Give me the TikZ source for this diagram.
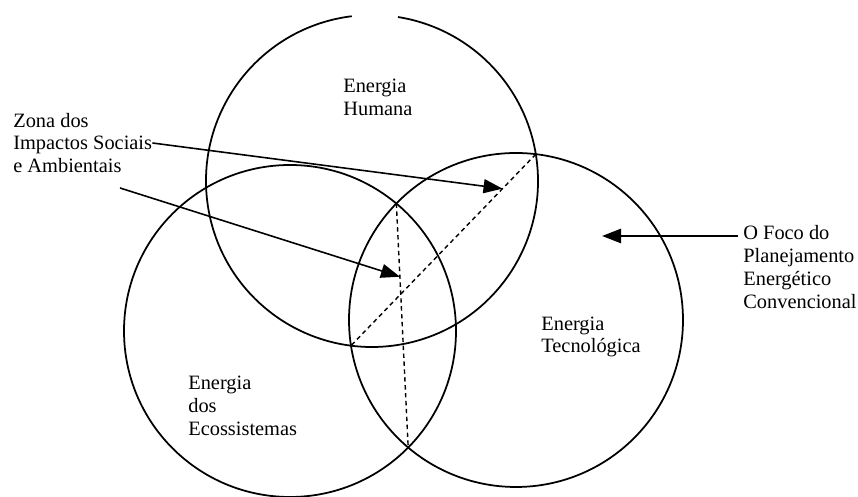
\documentclass[tikz,border=0pt]{standalone}
\usepackage{fontspec}
\setmainfont{Liberation Serif}
\usetikzlibrary{arrows.meta, calc}

\begin{document}
\begin{tikzpicture}[font=\fontsize{11.6}{13}\selectfont,
            ring/.style={line width=1pt},
            chord/.style={line width=0.8pt,dash pattern=on 2.5pt off 2pt},
            pointer/.style={line width=0.9pt,-{Triangle[length=3.8mm,width=2.8mm]}},
            txt/.style={align=left,anchor=west,inner sep=0pt}]
            \useasboundingbox (0,0) rectangle (17.16,9.94);
            \draw[ring] (7.44,6.32) ++(97:3.32) arc[start angle=97,end angle=441,radius=3.32];
            \draw[ring] (5.80,3.32) circle (3.32);
            \draw[ring] (10.32,3.54) circle (3.34);
            \coordinate (lr-1) at (7.927,5.870);
            \coordinate (lr-2) at (8.164,0.989);
            \coordinate (ht-1) at (10.716,6.856);
            \coordinate (ht-2) at (7.020,3.027);
            \draw[chord] (lr-1) -- (lr-2);
            \draw[chord] (ht-1) -- (ht-2);
            \node[txt] (humana) at (6.86,8.00) {Energia\\Humana};
            \node[txt] (tecno) at (10.82,3.20) {Energia\\Tecnológica};
            \node[txt] (eco) at (3.76,1.82) {Energia\\dos\\Ecossistemas};
            \node[txt] (zona) at (0.26,7.08) {Zona dos\\Impactos Sociais\\e Ambientais};
            \node[txt] (foco) at (14.86,4.60) {O Foco do\\Planejamento\\Energético\\Convencional};
            \coordinate (zona-2) at (2.40,6.18);
            \coordinate (foco-in) at (14.76,5.22);
            \coordinate (foco-tip) at (12.04,5.22);
            \draw[pointer] (zona.east) -- ($(ht-1)!0.18!(ht-2)$);
            \draw[pointer] (zona-2) -- ($(lr-1)!0.30!(lr-2)$);
            \draw[pointer,line width=1.5pt] (foco-in) -- (foco-tip);
        \end{tikzpicture}
\end{document}
